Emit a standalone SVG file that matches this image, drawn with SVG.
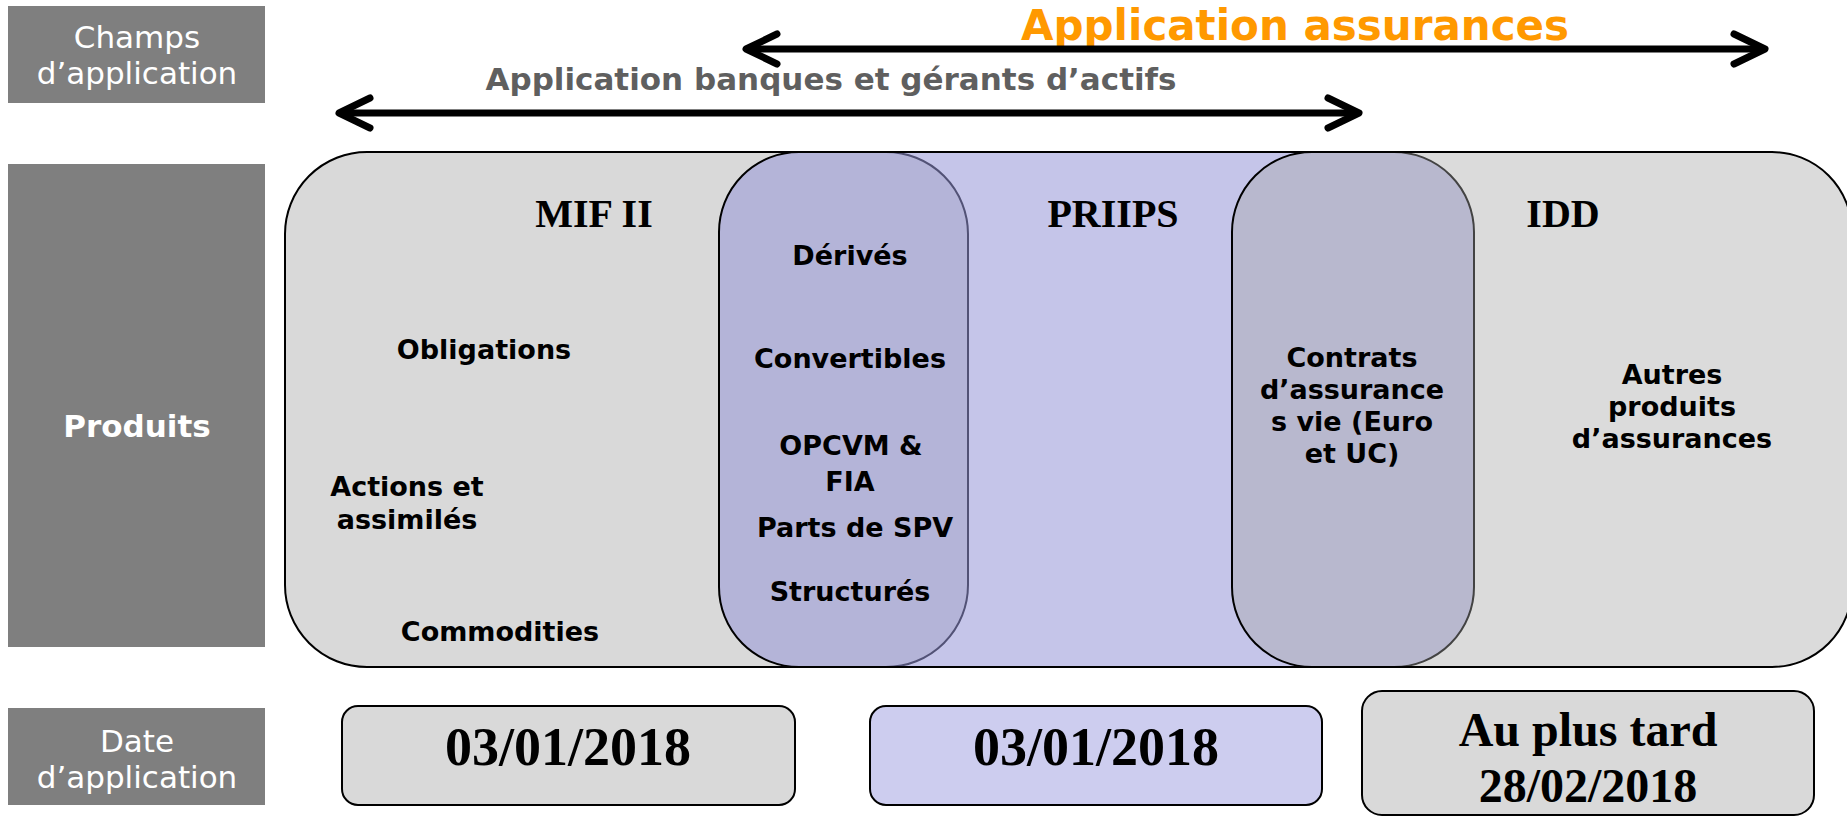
<svg xmlns="http://www.w3.org/2000/svg" width="1847" height="816" viewBox="0 0 1847 816">
<defs>
<style>
.lbl{fill:#7f7f7f}
.lblt{font-family:"DejaVu Sans",Verdana,sans-serif;fill:#ffffff;font-size:31px;text-anchor:middle}
.lblb{font-family:"DejaVu Sans",Verdana,sans-serif;fill:#ffffff;font-size:31px;font-weight:bold;text-anchor:middle}
.item{font-family:"DejaVu Sans",Verdana,sans-serif;font-weight:bold;font-size:27px;text-anchor:middle;fill:#000000}
.reg{font-family:"Liberation Serif","Times New Roman",serif;font-weight:bold;font-size:40px;text-anchor:middle;fill:#000000}
.date{font-family:"Liberation Serif","Times New Roman",serif;font-weight:bold;text-anchor:middle;fill:#000000}
.dbox{stroke:#000000;stroke-width:2}
.arrow{stroke:#000000;stroke-width:7;fill:none}
</style>
<marker id="chev" markerUnits="userSpaceOnUse" viewBox="-40 -22 46 44" refX="0" refY="0" markerWidth="46" markerHeight="44" orient="auto-start-reverse" overflow="visible">
<path d="M-31,-15 L0,0 L-31,15" fill="none" stroke="#000000" stroke-width="7" stroke-linecap="round" stroke-linejoin="round"/>
</marker>
</defs>
<rect width="1847" height="816" fill="#ffffff"/>

<g id="label-champs">
<rect class="lbl" x="8" y="6" width="257" height="97"/>
<text class="lblt" x="137" y="48">Champs</text>
<text class="lblt" x="137" y="84">d’application</text>
</g>
<g id="label-produits">
<rect class="lbl" x="8" y="164" width="257" height="483"/>
<text class="lblb" x="137" y="437">Produits</text>
</g>
<g id="label-date">
<rect class="lbl" x="8" y="708" width="257" height="97"/>
<text class="lblt" x="137" y="752">Date</text>
<text class="lblt" x="137" y="788">d’application</text>
</g>

<g id="header-assurances">
<text x="1295" y="40" font-family="DejaVu Sans, Verdana, sans-serif" font-weight="bold" font-size="42" fill="#ff9900" text-anchor="middle">Application assurances</text>
</g>
<g id="header-banques">
<text x="831" y="90" font-family="DejaVu Sans, Verdana, sans-serif" font-weight="bold" font-size="31" fill="#5f5f5f" text-anchor="middle">Application banques et gérants d’actifs</text>
</g>

<g id="connectors">
<path class="arrow" d="M746,49 L1765,49" marker-start="url(#chev)" marker-end="url(#chev)"/>
<path class="arrow" d="M339,113 L1359,113" marker-start="url(#chev)" marker-end="url(#chev)"/>
</g>

<g id="mif2">
<rect x="285" y="152" width="683" height="515" rx="82" ry="82" fill="#d9d9d9" stroke="#000000" stroke-width="2"/>
<text class="reg" x="594" y="227">MIF II</text>
<text class="item" x="484" y="359">Obligations</text>
<text class="item" x="407" y="496">Actions et</text>
<text class="item" x="407" y="529">assimilés</text>
<text class="item" x="500" y="641">Commodities</text>
</g>

<g id="priips">
<rect x="719" y="152" width="755" height="515" rx="80" ry="80" fill="#9696d7" fill-opacity="0.55" stroke="#000000" stroke-width="2"/>
<text class="reg" x="1113" y="227">PRIIPS</text>
</g>

<g id="idd">
<rect x="1232" y="152" width="620" height="515" rx="80" ry="80" fill="#a7a7a7" fill-opacity="0.405" stroke="#000000" stroke-width="2"/>
<text class="reg" x="1563" y="227">IDD</text>
<text class="item" x="1672" y="384">Autres</text>
<text class="item" x="1672" y="416">produits</text>
<text class="item" x="1672" y="448">d’assurances</text>
</g>

<g id="mif-priips-items">
<text class="item" x="850" y="265">Dérivés</text>
<text class="item" x="850" y="368">Convertibles</text>
<text class="item" x="851" y="455">OPCVM &amp;</text>
<text class="item" x="850" y="491">FIA</text>
<text class="item" x="855" y="537">Parts de SPV</text>
<text class="item" x="850" y="601">Structurés</text>
</g>

<g id="priips-idd-items">
<text class="item" x="1352" y="367">Contrats</text>
<text class="item" x="1352" y="399">d’assurance</text>
<text class="item" x="1352" y="431">s vie (Euro</text>
<text class="item" x="1352" y="463">et UC)</text>
</g>

<g id="date-mif">
<rect class="dbox" x="342" y="706" width="453" height="99" rx="16" ry="16" fill="#d9d9d9"/>
<text class="date" x="568" y="765" font-size="54">03/01/2018</text>
</g>
<g id="date-priips">
<rect class="dbox" x="870" y="706" width="452" height="99" rx="16" ry="16" fill="#cdcdef"/>
<text class="date" x="1096" y="765" font-size="54">03/01/2018</text>
</g>
<g id="date-idd">
<rect class="dbox" x="1362" y="691" width="452" height="124" rx="20" ry="20" fill="#d9d9d9"/>
<text class="date" x="1588" y="746" font-size="48">Au plus tard</text>
<text class="date" x="1588" y="802" font-size="48">28/02/2018</text>
</g>
</svg>
